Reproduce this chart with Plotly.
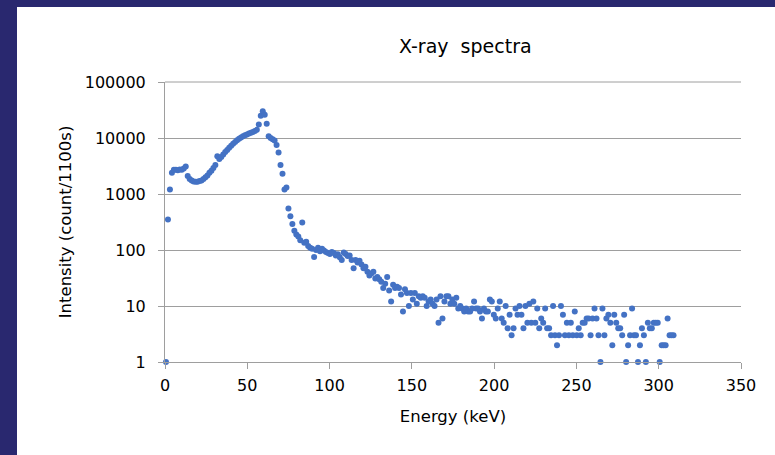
import plotly.graph_objects as go

# Channel energies (keV)
energy_kev = [
    0.6, 1.8, 3.0, 4.2, 5.4, 6.6, 7.8, 9.0, 10.2, 11.4,
    12.6, 13.8, 15.0, 16.2, 17.4, 18.6, 19.8, 21.0, 22.2, 23.4,
    24.6, 25.8, 27.0, 28.2, 29.4, 30.6, 31.8, 33.0, 34.2, 35.4,
    36.6, 37.8, 39.0, 40.2, 41.4, 42.6, 43.8, 45.0, 46.2, 47.4,
    48.6, 49.8, 51.0, 52.2, 53.4, 54.6, 55.8, 57.0, 58.2, 59.4,
    60.6, 61.8, 63.0, 64.2, 65.4, 66.6, 67.8, 69.0, 70.2, 71.4,
    72.6, 73.8, 75.0, 76.2, 77.4, 78.6, 79.8, 81.0, 82.2, 83.4,
    84.6, 85.8, 87.0, 88.2, 89.4, 90.6, 91.8, 93.0, 94.2, 95.4,
    96.6, 97.8, 99.0, 100.2, 101.4, 102.6, 103.8, 105.0, 106.2, 107.4,
    108.6, 109.8, 111.0, 112.2, 113.4, 114.6, 115.8, 117.0, 118.2, 119.4,
    120.6, 121.8, 123.0, 124.2, 125.4, 126.6, 127.8, 129.0, 130.2, 131.4,
    132.6, 133.8, 135.0, 136.2, 137.4, 138.6, 139.8, 141.0, 142.2, 143.4,
    144.6, 145.8, 147.0, 148.2, 149.4, 150.6, 151.8, 153.0, 154.2, 155.4,
    156.6, 157.8, 159.0, 160.2, 161.4, 162.6, 163.8, 165.0, 166.2, 167.4,
    168.6, 169.8, 171.0, 172.2, 173.4, 174.6, 175.8, 177.0, 178.2, 179.4,
    180.6, 181.8, 183.0, 184.2, 185.4, 186.6, 187.8, 189.0, 190.2, 191.4,
    192.6, 193.8, 195.0, 196.2, 197.4, 198.6, 199.8, 201.0, 202.2, 203.4,
    204.6, 205.8, 207.0, 208.2, 209.4, 210.6, 211.8, 213.0, 214.2, 215.4,
    216.6, 217.8, 219.0, 220.2, 221.4, 222.6, 223.8, 225.0, 226.2, 227.4,
    228.6, 229.8, 231.0, 232.2, 233.4, 234.6, 235.8, 237.0, 238.2, 239.4,
    240.6, 241.8, 243.0, 244.2, 245.4, 246.6, 247.8, 249.0, 250.2, 251.4,
    252.6, 253.8, 255.0, 256.2, 257.4, 258.6, 259.8, 261.0, 262.2, 263.4,
    264.6, 265.8, 267.0, 268.2, 269.4, 270.6, 271.8, 273.0, 274.2, 275.4,
    276.6, 277.8, 279.0, 280.2, 281.4, 282.6, 283.8, 285.0, 286.2, 287.4,
    288.6, 289.8, 291.0, 292.2, 293.4, 294.6, 295.8, 297.0, 298.2, 299.4,
    300.6, 301.8, 303.0, 304.2, 305.4, 306.6, 307.8, 309.0,
]

# Intensity (count / 1100 s)
intensity = [
    1, 350, 1200, 2400, 2700, 2700, 2650, 2750, 2700, 2850,
    3100, 2100, 1850, 1750, 1680, 1650, 1650, 1700, 1750, 1850,
    2000, 2150, 2400, 2600, 2900, 3300, 4700, 4200, 4600, 5100,
    5600, 6100, 6700, 7300, 7900, 8500, 9100, 9700, 10200, 10700,
    11200, 11600, 12000, 12400, 12800, 13300, 14000, 17500, 25000, 30000,
    26000, 18000, 10800, 10000, 9500, 9000, 7500, 5500, 3300, 2300,
    1200, 1300, 550, 400, 290, 220, 190, 175, 150, 310,
    135, 140, 118, 110, 105, 75, 100, 110, 95, 105,
    98, 92, 88, 85, 92, 88, 80, 84, 74, 66,
    90, 85, 78, 80, 66, 47, 66, 60, 64, 55,
    47, 50, 41, 35, 38, 41, 31, 33, 30, 27,
    21, 25, 33, 19, 12, 24, 21, 22, 21, 16,
    8, 20, 17, 10, 17, 13, 17, 11, 15, 14,
    15, 14, 10, 12, 13, 11, 10, 13, 5, 15,
    6, 12, 15, 15, 11, 13, 11, 14, 9, 10,
    9, 8, 9, 8, 8, 9, 12, 9, 9, 8,
    6, 9, 8, 8, 13, 12, 7, 6, 9, 12,
    6, 5, 10, 4, 7, 3, 4, 9, 7, 10,
    7, 4, 10, 5, 11, 5, 12, 5, 9, 4,
    6, 5, 9, 4, 4, 3, 10, 3, 2, 3,
    10, 7, 3, 5, 3, 5, 3, 8, 3, 4,
    3, 5, 5, 6, 6, 3, 6, 9, 6, 3,
    1, 9, 3, 6, 7, 5, 2, 7, 5, 4,
    4, 3, 7, 1, 2, 3, 9, 3, 3, 1,
    2, 4, 3, 1, 5, 4, 4, 5, 5, 5,
    1, 2, 2, 2, 6, 3, 3, 3,
]

x_ticks = [0, 50, 100, 150, 200, 250, 300, 350]
y_ticks = [1, 10, 100, 1000, 10000, 100000]
y_tick_text = ["1", "10", "100", "1000", "10000", "100000"]

TITLE = "X-ray  spectra"
X_TITLE = "Energy (keV)"
Y_TITLE = "Intensity (count/1100s)"

FONT = "DejaVu Sans"
NAVY = "#29286F"
GRID = "#9E9E9E"
BLUE = "#4472C4"

fig = go.Figure()
fig.add_trace(go.Scatter(
    x=energy_kev, y=intensity, mode="markers",
    marker=dict(color=BLUE, size=6, line=dict(width=0)),
    cliponaxis=False, showlegend=False,
))

L, R, T, B = 165, 34, 82, 93
W, H = 775, 455
pw, ph = W - L - R, H - T - B

fig.update_layout(
    width=W, height=H,
    margin=dict(l=L, r=R, t=T, b=B, autoexpand=False),
    paper_bgcolor="white", plot_bgcolor="white",
    font=dict(family=FONT, color="#000000"),
    title=dict(text=TITLE, x=404 / W, xref="paper", xanchor="center",
               y=1 - 46 / H, yref="container", yanchor="middle",
               font=dict(family=FONT, size=19, color="#000000")),
    xaxis=dict(range=[0, 350], tickvals=x_ticks, showgrid=False,
               showline=True, linecolor=GRID, linewidth=1,
               ticks="outside", ticklen=6, tickcolor=GRID,
               ticklabelstandoff=3,
               tickfont=dict(family=FONT, size=16, color="#000000"),
               title=dict(text=X_TITLE, standoff=16,
                          font=dict(family=FONT, size=16.5, color="#000000")),
               zeroline=False, automargin=False),
    yaxis=dict(type="log", range=[0, 5], tickvals=y_ticks, ticktext=y_tick_text,
               showgrid=True, gridcolor=GRID, gridwidth=1,
               showline=True, linecolor=GRID, linewidth=1,
               ticks="outside", ticklen=6, tickcolor=GRID,
               ticklabelstandoff=9,
               tickfont=dict(family=FONT, size=16, color="#000000"),
               title=dict(text=Y_TITLE, standoff=8,
                          font=dict(family=FONT, size=16.5, color="#000000")),
               zeroline=False, automargin=False),
    shapes=[
        dict(type="rect", xref="paper", yref="paper",
             x0=-L / pw, x1=(17 - L) / pw, y0=-B / ph - 0.01, y1=1 + T / ph + 0.01,
             fillcolor=NAVY, line=dict(width=0), layer="below"),
        dict(type="rect", xref="paper", yref="paper",
             x0=-L / pw, x1=1 + R / pw + 0.01, y0=1 + (T - 7) / ph, y1=1 + T / ph + 0.01,
             fillcolor=NAVY, line=dict(width=0), layer="below"),
        dict(type="line", xref="paper", yref="paper", x0=0, x1=1, y0=1, y1=1,
             line=dict(color=GRID, width=1), layer="below"),
    ],
)

fig.write_html("out.html")
